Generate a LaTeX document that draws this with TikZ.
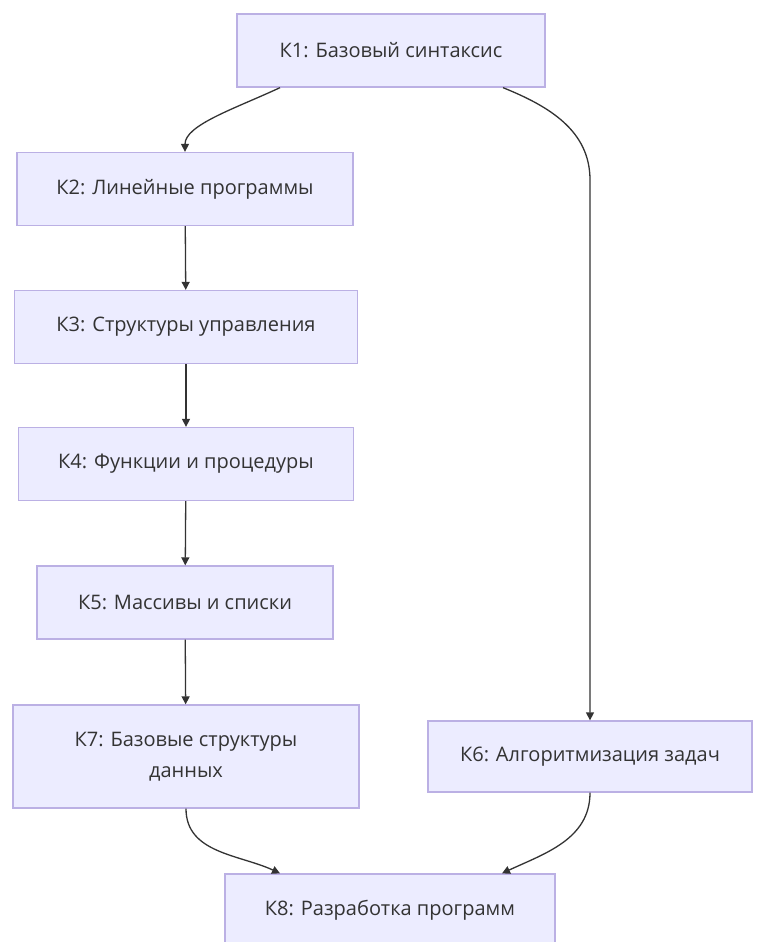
\documentclass[tikz,border=0pt]{standalone}
\usepackage{fontspec}
\setmainfont{Open Sans}
\usepackage{xcolor}
\usetikzlibrary{arrows.meta}

\definecolor{boxfill}{HTML}{ECECFF}
\definecolor{boxline}{HTML}{BBB0E4}
\definecolor{ink}{HTML}{333333}

\begin{document}
\begin{tikzpicture}[
  x=1pt, y=-1pt,
  font=\fontsize{20}{31}\selectfont,
  unit/.style={draw=boxline, fill=boxfill, line width=1.3pt, text=ink,
    minimum height=73pt, align=center, inner sep=4pt},
  link/.style={draw=ink, line width=1.3pt,
    -{Triangle[length=8pt, width=8pt]}},
]
\useasboundingbox[fill=white] (0,0) rectangle (758,942);

% left column
\node[unit, minimum width=308pt] (k1) at (391,50.5) {К1: Базовый синтаксис};
\node[unit, minimum width=336pt] (k2) at (185,189) {К2: Линейные программы};
\node[unit, minimum width=343pt] (k3) at (186,327) {К3: Структуры управления};
\node[unit, minimum width=335pt] (k4) at (186,464) {К4: Функции и процедуры};
\node[unit, minimum width=296pt] (k5) at (185,602.5) {К5: Массивы и списки};
\node[unit, minimum width=346pt, minimum height=103pt] (k7) at (186,756.5)
  {К7: Базовые структуры\\данных};

% right branch and sink
\node[unit, minimum width=324pt, minimum height=71pt] (k6) at (590,756.5)
  {К6: Алгоритмизация задач};
\node[unit, minimum width=330pt] (k8) at (390,910.5) {К8: Разработка программ};

\coordinate (turn6) at (k6.north |- 0,180);

\draw[link] ([xshift=-111pt]k1.south)
  to[out=205, in=90, out looseness=1.1, in looseness=0.6] (k2.north);
\draw[link] (k2) -- (k3);
\draw[link] (k3) -- (k4);
\draw[link] (k4) -- (k5);
\draw[link] (k5) -- (k7);
\draw[link] ([xshift=112pt]k1.south) to[out=-22, in=90] (turn6) -- (k6.north);
\draw[link] (k7.south) to[out=-90, in=155] ([xshift=-110pt]k8.north);
\draw[link] (k6.south) to[out=-90, in=25] ([xshift=112pt]k8.north);

\end{tikzpicture}
\end{document}
